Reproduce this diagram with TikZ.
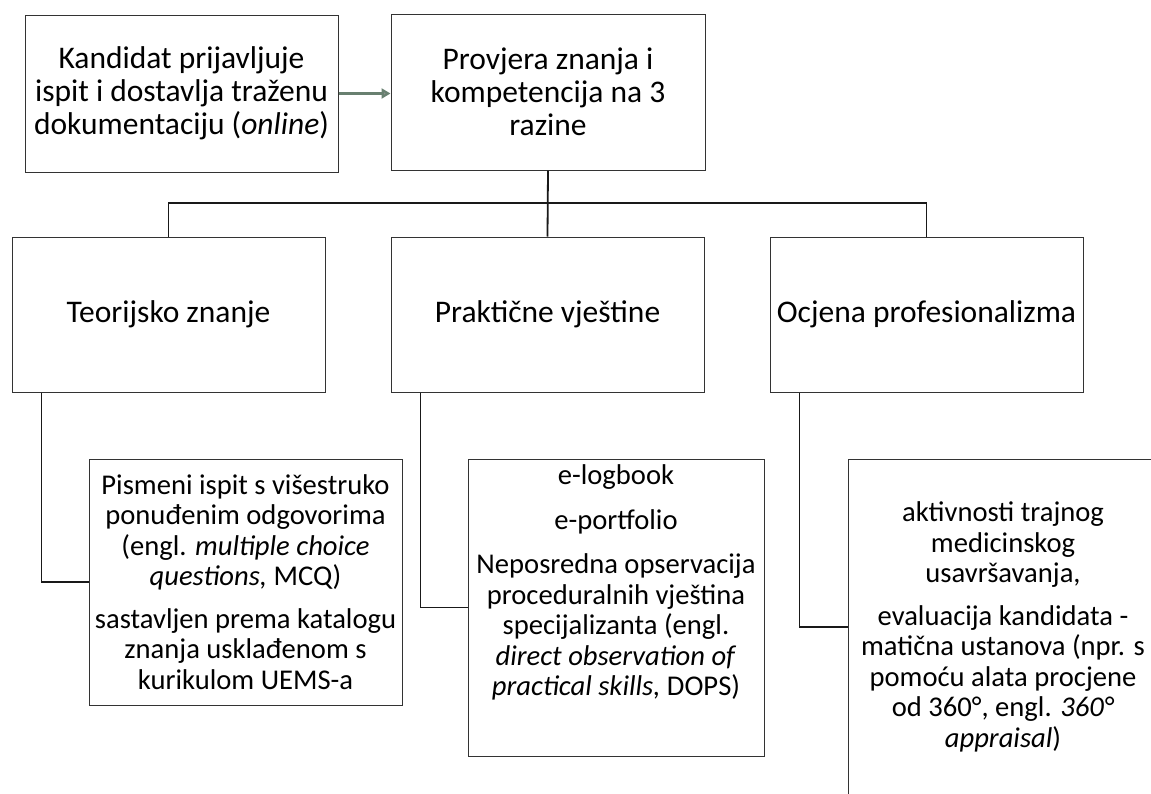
\documentclass[tikz,border=0pt]{standalone}
\usepackage{fontspec}
\setmainfont{Carlito}
\usepackage{tikz}
\usetikzlibrary{arrows.meta}
\definecolor{arrowgreen}{RGB}{104,128,112}
\definecolor{tipgray}{RGB}{140,146,140}

\begin{document}
\begin{tikzpicture}[x=0.5pt,y=-0.5pt,
	box/.style={rectangle,draw=black!80,line width=0.5pt,align=center,inner sep=1pt,font=\fontsize{15.75}{16.5}\selectfont},
	subbox/.style={box,font=\fontsize{14.3}{15.25}\selectfont},
	link/.style={draw=black!90,line width=0.9pt},
	flow/.style={draw=arrowgreen,line width=1.4pt,-{Triangle[length=4.5pt,width=5pt,fill=tipgray]}},
	]
	\useasboundingbox (0,0) rectangle (1151,793);
	\fill[white] (0,0) rectangle (1151,793);
	\clip (0,0) rectangle (1151,793);
	\node[box,minimum width=156.5pt,minimum height=78.5pt] (kand) at (181.5,93.5) {Kandidat prijavljuje\\ispit i dostavlja traženu\\dokumentaciju (\textit{online})};
	\node[box,minimum width=157pt,minimum height=78pt] (prov) at (548,92) {Provjera znanja i\\kompetencija na 3\\razine};
	\node[box,minimum width=156.5pt,minimum height=77.5pt] (teo) at (168.5,314.5) {Teorijsko znanje};
	\node[box,minimum width=156.5pt,minimum height=77.5pt] (prak) at (547.5,314.5) {Praktične vještine};
	\node[box,minimum width=156.5pt,minimum height=77.5pt] (ocj) at (926.5,314.5) {Ocjena profesionalizma};
	\node[subbox,minimum width=156.5pt,minimum height=123pt] (pis) at (245.5,582) {Pismeni ispit s višestruko\\ponuđenim odgovorima\\(engl. \textit{multiple choice}\\\textit{questions,} MCQ)\\[6pt]sastavljen prema katalogu\\znanja usklađenom s\\kurikulom UEMS-a};
	\node[subbox,inner sep=0pt] (obs) at (616,607.5) {\begin{minipage}[c][148.5pt][t]{148pt}\centering
		\vspace*{3pt}
		e-logbook\\[7pt]
		e-portfolio\\[7pt]
		Neposredna opservacija\\proceduralnih vještina\\specijalizanta (engl.\\\textit{direct observation of}\\\textit{practical skills,} DOPS)
	\end{minipage}};
	\node[subbox,minimum width=155pt,minimum height=168pt] (akt) at (1003,627) {aktivnosti trajnog\\medicinskog\\usavršavanja,\\[6pt]evaluacija kandidata -\\matična ustanova (npr. s\\pomoću alata procjene\\od 360°, engl. \textit{360°}\\\textit{appraisal})};
	\coordinate (split) at (548,203);
	\draw[flow] (kand.east) -- (kand.east -| prov.west);
	\draw[link] (prov.south) -- (prak.north);
	\draw[link] (teo.north) |- (split) -| (ocj.north);
	\draw[link] ([xshift=15pt]teo.south west) |- (pis.west);
	\draw[link] ([xshift=15pt]prak.south west) |- (obs.west);
	\draw[link] ([xshift=15pt]ocj.south west) |- (akt.west);
\end{tikzpicture}
\end{document}
